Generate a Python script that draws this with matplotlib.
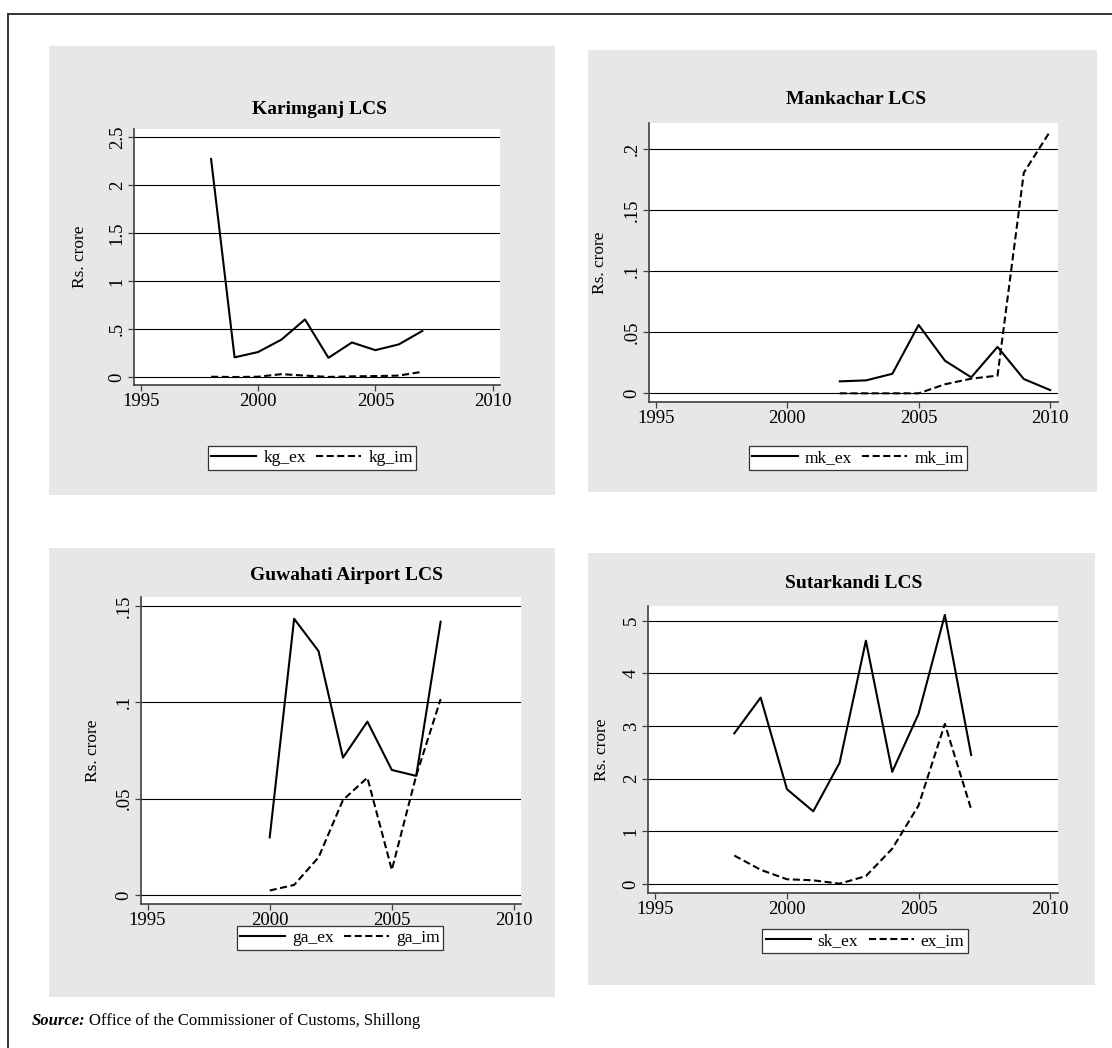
import matplotlib
matplotlib.use('Agg')
import matplotlib.pyplot as plt
from matplotlib.lines import Line2D
from matplotlib.patches import Rectangle

# ---------------- data ----------------
years_kg = [1998, 1999, 2000, 2001, 2002, 2003, 2004, 2005, 2006, 2007]
kg_ex = [2.27, 0.205, 0.26, 0.39, 0.60, 0.20, 0.36, 0.28, 0.34, 0.48]
kg_im = [0.003, 0.0, 0.003, 0.03, 0.015, 0.001, 0.007, 0.01, 0.015, 0.055]

years_mk = [2002, 2003, 2004, 2005, 2006, 2007, 2008, 2009, 2010]
mk_ex = [0.0098, 0.0106, 0.016, 0.056, 0.0267, 0.0131, 0.038, 0.0117, 0.0027]
mk_im = [0.0, 0.0, 0.0, 0.0, 0.0074, 0.012, 0.0145, 0.1806, 0.2145]

years_ga = [2000, 2001, 2002, 2003, 2004, 2005, 2006, 2007]
ga_ex = [0.0299, 0.1434, 0.1266, 0.0713, 0.090, 0.0649, 0.0618, 0.1419]
ga_im = [0.0023, 0.0052, 0.0195, 0.0493, 0.0609, 0.013, 0.062, 0.1017]

years_sk = [1998, 1999, 2000, 2001, 2002, 2003, 2004, 2005, 2006, 2007]
sk_ex = [2.86, 3.54, 1.80, 1.38, 2.30, 4.62, 2.13, 3.23, 5.11, 2.45]
sk_im = [0.54, 0.27, 0.09, 0.07, 0.006, 0.15, 0.67, 1.49, 3.04, 1.42]

xticks = [1995, 2000, 2005, 2010]
xtick_labels = ['1995', '2000', '2005', '2010']

kg_yticks = [0, 0.5, 1, 1.5, 2, 2.5]
kg_ylabels = ['0', '.5', '1', '1.5', '2', '2.5']
mk_yticks = [0, 0.05, 0.1, 0.15, 0.2]
mk_ylabels = ['0', '.05', '.1', '.15', '.2']
ga_yticks = [0, 0.05, 0.1, 0.15]
ga_ylabels = ['0', '.05', '.1', '.15']
sk_yticks = [0, 1, 2, 3, 4, 5]
sk_ylabels = ['0', '1', '2', '3', '4', '5']

titles = ['Karimganj LCS', 'Mankachar LCS', 'Guwahati Airport LCS', 'Sutarkandi LCS']
legend_labels = [['kg_ex', 'kg_im'], ['mk_ex', 'mk_im'], ['ga_ex', 'ga_im'], ['sk_ex', 'ex_im']]
ylabel_text = 'Rs. crore'
source_label = 'Source:'
source_text = 'Office of the Commissioner of Customs, Shillong'

# ---------------- layout ----------------
W, H = 1112, 1048
plt.rcParams['font.family'] = ['Liberation Serif', 'DejaVu Serif']
fig = plt.figure(figsize=(W / 100, H / 100), dpi=100)
fig.patch.set_facecolor('white')


def fx(x):
    return x / W


def fy(y):
    return 1 - y / H


GREY = '#e7e7e7'


def grey_box(x0, y0, x1, y1):
    fig.patches.append(Rectangle((fx(x0), fy(y1)), fx(x1) - fx(x0), fy(y0) - fy(y1),
                                 transform=fig.transFigure, facecolor=GREY,
                                 edgecolor='none', zorder=-10))


# outer frame (top and left lines)
fig.add_artist(Line2D([fx(8), fx(W)], [fy(14), fy(14)], color='#333333', lw=1.4,
                      transform=fig.transFigure))
fig.add_artist(Line2D([fx(8), fx(8)], [fy(14), fy(H)], color='#333333', lw=1.4,
                      transform=fig.transFigure))

panels = [
    dict(grey=(49, 46, 555, 495), box=(134, 129, 500, 385),
         xlim=(1994.715, 2010.31), ylim=(-0.083, 2.583),
         yt=kg_yticks, yl=kg_ylabels, years=years_kg, ex=kg_ex, im=kg_im,
         title_xy=(320, 109), lab_dx=-46, leg=(312, 458)),
    dict(grey=(588, 50, 1097, 492), box=(649, 123, 1058, 402),
         xlim=(1994.745, 2010.30), ylim=(-0.0071, 0.2213),
         yt=mk_yticks, yl=mk_ylabels, years=years_mk, ex=mk_ex, im=mk_im,
         title_xy=(856, 100), lab_dx=-41, leg=(858, 458)),
    dict(grey=(49, 548, 555, 997), box=(141, 597, 521, 904),
         xlim=(1994.73, 2010.29), ylim=(-0.0047, 0.1547),
         yt=ga_yticks, yl=ga_ylabels, years=years_ga, ex=ga_ex, im=ga_im,
         title_xy=(347, 575), lab_dx=-40, leg=(340, 938)),
    dict(grey=(588, 553, 1095, 985), box=(648, 606, 1058, 893),
         xlim=(1994.72, 2010.30), ylim=(-0.171, 5.279),
         yt=sk_yticks, yl=sk_ylabels, years=years_sk, ex=sk_ex, im=sk_im,
         title_xy=(854, 583), lab_dx=-38, leg=(865, 941)),
]

DASH = (0, (3.4, 1.7))
LW = 1.5

for i, p in enumerate(panels):
    grey_box(*p['grey'])
    l, t, r, b = p['box']
    ax = fig.add_axes([fx(l), fy(b), fx(r) - fx(l), fy(t) - fy(b)])
    ax.set_zorder(1)
    ax.set_facecolor('white')
    ax.set_xlim(*p['xlim'])
    ax.set_ylim(*p['ylim'])
    for s in ['top', 'right']:
        ax.spines[s].set_visible(False)
    for s in ['left', 'bottom']:
        ax.spines[s].set_color('#404040')
        ax.spines[s].set_linewidth(1.2)
    ax.set_xticks(xticks)
    ax.set_xticklabels(xtick_labels, fontsize=13.5)
    ax.set_yticks(p['yt'])
    ax.set_yticklabels(p['yl'], fontsize=13.5, rotation=90, va='center')
    ax.tick_params(direction='out', length=4, width=0.9, color='#404040', pad=2)
    for yv in p['yt']:
        ax.axhline(yv, color='black', lw=0.8, zorder=1)
    ax.plot(p['years'], p['ex'], color='black', lw=LW, zorder=3)
    ax.plot(p['years'], p['im'], color='black', lw=LW, ls=DASH, zorder=3)
    ax.set_ylabel(ylabel_text, fontsize=12.5)
    ax.yaxis.set_label_coords(p['lab_dx'] / (r - l), 0.5)
    tx, ty = p['title_xy']
    fig.text(fx(tx), fy(ty), titles[i], ha='center', va='center',
             fontsize=14, fontweight='bold')
    handles = [Line2D([], [], color='black', lw=LW),
               Line2D([], [], color='black', lw=LW, ls=DASH)]
    lx, ly = p['leg']
    lg = fig.legend(handles, legend_labels[i], loc='center',
                    bbox_to_anchor=(fx(lx), fy(ly)), ncol=2, frameon=True,
                    fancybox=False, edgecolor='#333333', framealpha=1,
                    fontsize=12.5, handlelength=2.6, handletextpad=0.4,
                    columnspacing=0.6, borderpad=0.2, borderaxespad=0)
    lg.get_frame().set_linewidth(0.9)
    lg.set_zorder(2)

# source line
st = fig.text(fx(32), fy(1021), source_label, fontsize=12, fontweight='bold',
              style='italic', va='center', ha='left')
fig.canvas.draw()
bb = st.get_window_extent()
fig.text((bb.x1 + 3) / W, fy(1021), source_text, fontsize=12, va='center', ha='left')

fig.savefig('out.png', dpi=100)
